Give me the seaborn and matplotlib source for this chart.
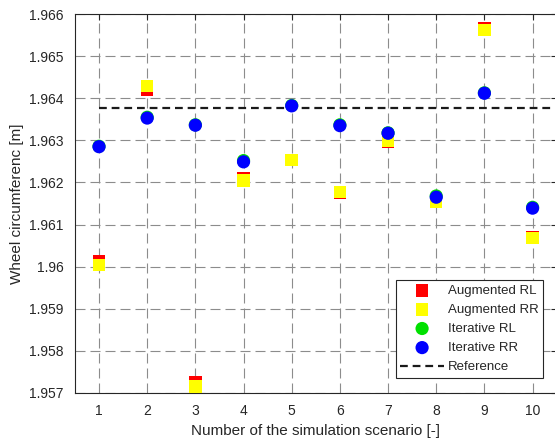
import seaborn as sns
import matplotlib.pyplot as plt
import pandas as pd

# Wheel circumference estimates per simulation scenario
scenario = [1, 2, 3, 4, 5, 6, 7, 8, 9, 10]
aug_rl = [1.96012, 1.96420, 1.95725, 1.96210, 1.96253, 1.96175, 1.96296, 1.96156, 1.96566, 1.96070]
aug_rr = [1.96004, 1.96429, 1.95715, 1.96205, 1.96253, 1.96177, 1.96298, 1.96155, 1.96562, 1.96068]
it_rl = [1.96286, 1.96355, 1.96337, 1.96252, 1.96383, 1.96337, 1.96318, 1.96168, 1.96413, 1.96141]
it_rr = [1.96285, 1.96353, 1.96336, 1.96249, 1.96382, 1.96335, 1.96317, 1.96165, 1.96412, 1.96139]
ref_x = [1, 10.5]
ref_val = [1.96376, 1.96376]
yticks = [1.957, 1.958, 1.959, 1.96, 1.961, 1.962, 1.963, 1.964, 1.965, 1.966]

df = pd.DataFrame({'scenario': scenario, 'aug_rl': aug_rl, 'aug_rr': aug_rr,
                   'it_rl': it_rl, 'it_rr': it_rr})
ref = pd.DataFrame({'x': ref_x, 'y': ref_val})

sns.set_style('white')
plt.rcParams['font.family'] = ['Liberation Sans', 'DejaVu Sans']

fig = plt.figure(figsize=(5.55, 4.41), dpi=100)
ax = fig.add_axes([0.135, 0.109, 0.868, 0.859])

# reference line first, markers go on top
sns.lineplot(x='x', y='y', data=ref, ax=ax, color='#1a1a1a', linewidth=1.6,
             linestyle=(0, (3.5, 2.2)), label='Reference', zorder=2)

series = [('aug_rl', 'Augmented RL', 's', '#ff0000'),
          ('aug_rr', 'Augmented RR', 's', '#ffff00'),
          ('it_rl', 'Iterative RL', 'o', '#00e000'),
          ('it_rr', 'Iterative RR', 'o', '#0000ff')]
for col, lab, mk, c in series:
    sns.scatterplot(x='scenario', y=col, data=df, ax=ax, marker=mk, color=c,
                    s=80 if mk == 's' else 90, edgecolor='none', label=lab, zorder=3)

ax.set_xlim(0.5, 10.5)
ax.set_ylim(1.957, 1.966)
ax.set_xticks(scenario)
ax.set_yticks(yticks)
ax.set_yticklabels([f'{v:.3f}'.rstrip('0') for v in yticks])
ax.tick_params(direction='in', length=4, labelsize=10, colors='#262626',
               top=True, right=True, pad=8)
ax.set_xlabel('Number of the simulation scenario [-]', fontsize=11, color='#262626')
ax.set_ylabel('Wheel circumferenc [m]', fontsize=11, color='#262626')
for s in ax.spines.values():
    s.set_color('#262626')
    s.set_linewidth(0.8)

# grid
ax.grid(True, color='#8c8c8c', linestyle=(0, (9, 4.5)), linewidth=0.8)
ax.set_axisbelow(True)

h, l = ax.get_legend_handles_labels()
order = [1, 2, 3, 4, 0]
leg = ax.legend([h[i] for i in order], [l[i] for i in order], loc='lower right',
                bbox_to_anchor=(0.972, 0.04), fontsize=9.5, frameon=True, fancybox=False,
                edgecolor='#262626', framealpha=1, borderpad=0.35, labelspacing=0.52,
                handlelength=3.3, handletextpad=0.3, borderaxespad=0)
leg.get_frame().set_linewidth(0.8)

plt.savefig('out.png', dpi=100)
